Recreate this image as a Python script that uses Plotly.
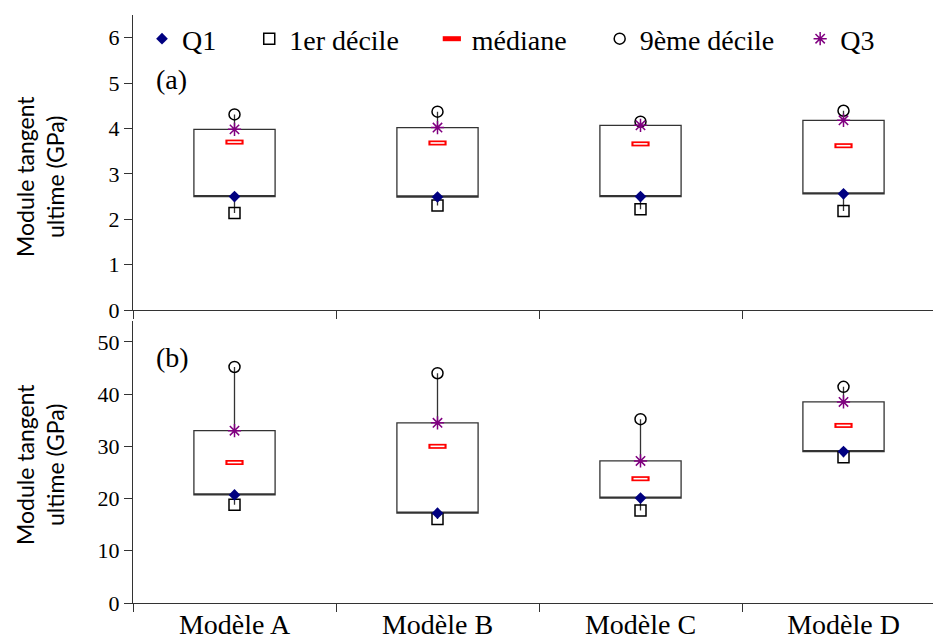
import plotly.graph_objects as go
from plotly.subplots import make_subplots

categories = ["Modèle A", "Modèle B", "Modèle C", "Modèle D"]

# Panel (a) values (GPa)
a_q1 = [2.50, 2.49, 2.50, 2.56]
a_d1 = [2.14, 2.30, 2.22, 2.18]
a_med = [3.70, 3.68, 3.66, 3.62]
a_d9 = [4.31, 4.37, 4.15, 4.39]
a_q3 = [3.98, 4.02, 4.07, 4.18]

# Panel (b) values (GPa)
b_q1 = [20.7, 17.2, 20.1, 29.0]
b_d1 = [18.8, 16.1, 17.7, 27.9]
b_med = [26.9, 30.0, 23.8, 34.0]
b_d9 = [45.2, 44.0, 35.2, 41.4]
b_q3 = [33.0, 34.5, 27.2, 38.5]

ticks_a = [0, 1, 2, 3, 4, 5, 6]
ticks_b = [0, 10, 20, 30, 40, 50]

names = ["Q1", "1er décile", "médiane", "9ème décile", "Q3"]
pads = [4, 4, 4, 3, 0]
NB = "\u00a0"

SERIF = "Liberation Serif"
SANS = "Lato"
AX = "#333333"

fig = make_subplots(rows=2, cols=1, shared_xaxes=True)


def add_panel(row, q1, d1, med, d9, q3, legend):
    fig.add_trace(go.Box(
        x=categories, q1=q1, median=q1, q3=q3, lowerfence=d1, upperfence=d9,
        width=0.4, whiskerwidth=0, boxpoints=False, fillcolor="white",
        line=dict(color=AX, width=1.3), showlegend=False, hoverinfo="skip"),
        row=row, col=1)
    fig.add_trace(go.Scatter(
        x=categories, y=d1, mode="markers", name=names[1] + NB * pads[1],
        legendrank=2, showlegend=legend,
        marker=dict(symbol="square-open", size=11, color="black",
                    line=dict(width=1.5, color="black"))), row=row, col=1)
    fig.add_trace(go.Scatter(
        x=categories, y=d9, mode="markers", name=names[3] + NB * pads[3],
        legendrank=4, showlegend=legend,
        marker=dict(symbol="circle-open", size=11, color="black",
                    line=dict(width=1.5, color="black"))), row=row, col=1)
    fig.add_trace(go.Scatter(
        x=categories, y=q1, mode="markers", name=names[0] + NB * pads[0],
        legendrank=1, showlegend=legend,
        marker=dict(symbol="diamond", size=9, color="#000080",
                    line=dict(width=0))), row=row, col=1)
    fig.add_trace(go.Scatter(
        x=categories, y=med, mode="markers", name=names[2] + NB * pads[2],
        legendrank=3, showlegend=legend,
        marker=dict(symbol="line-ew", size=13, color="red",
                    line=dict(width=5, color="red"))), row=row, col=1)
    fig.add_trace(go.Scatter(
        x=categories, y=med, mode="markers", showlegend=False, hoverinfo="skip",
        marker=dict(symbol="line-ew", size=10, color="white",
                    line=dict(width=1.6, color="white"))), row=row, col=1)
    fig.add_trace(go.Scatter(
        x=categories, y=q3, mode="markers", name=names[4] + NB * pads[4],
        legendrank=5, showlegend=legend,
        marker=dict(symbol="asterisk-open", size=11, color="#800080",
                    line=dict(width=1.5, color="#800080"))), row=row, col=1)


add_panel(1, a_q1, a_d1, a_med, a_d9, a_q3, True)
add_panel(2, b_q1, b_d1, b_med, b_d9, b_q3, False)

H_TOP, H_BOT = 15, 603
PH = H_BOT - H_TOP
y_a_bot = (H_BOT - 310) / PH
y_b_top = (H_BOT - 321) / PH

xcommon = dict(type="category", categoryorder="array", categoryarray=categories,
               range=[-0.5, -0.5 + 800 / 203], tickson="boundaries",
               ticks="outside", ticklen=8, tickcolor=AX, tickwidth=1.3,
               showline=True, linecolor=AX, linewidth=1.4, showgrid=False,
               zeroline=False, automargin=False, ticklabelstandoff=-4,
               tickfont=dict(family=SERIF, size=28, color="black"))
fig.update_xaxes(**xcommon)
fig.update_xaxes(showticklabels=False, row=1, col=1)

ycommon = dict(ticks="outside", ticklen=8, tickcolor=AX, tickwidth=1.3,
               showline=True, linecolor=AX, linewidth=1.4, showgrid=False,
               zeroline=False, automargin=False,
               tickfont=dict(family=SERIF, size=22, color="black"))
fig.update_yaxes(**ycommon)
fig.update_yaxes(range=[0, 6.5], tickvals=ticks_a, domain=[y_a_bot, 1.0], row=1, col=1)
fig.update_yaxes(range=[0, 54], tickvals=ticks_b, domain=[0, y_b_top], row=2, col=1)

annotations = [
    dict(text="Module tangent<br>ultime (GPa)", textangle=-90, xref="paper", yref="paper",
         x=(40 - 133) / 800, y=(H_BOT - 177) / PH, xanchor="center", yanchor="middle",
         showarrow=False, font=dict(family=SANS, size=23, color="black")),
    dict(text="Module tangent<br>ultime (GPa)", textangle=-90, xref="paper", yref="paper",
         x=(40 - 133) / 800, y=(H_BOT - 465) / PH, xanchor="center", yanchor="middle",
         showarrow=False, font=dict(family=SANS, size=23, color="black")),
    dict(text="(a)", xref="paper", yref="paper", x=(154 - 133) / 800,
         y=(H_BOT - 80) / PH, xanchor="left", yanchor="middle", showarrow=False,
         font=dict(family=SERIF, size=28, color="black")),
    dict(text="(b)", xref="paper", yref="paper", x=(154 - 133) / 800,
         y=(H_BOT - 358) / PH, xanchor="left", yanchor="middle", showarrow=False,
         font=dict(family=SERIF, size=28, color="black")),
]

fig.update_layout(
    width=933, height=640,
    margin=dict(l=133, r=0, t=H_TOP, b=640 - H_BOT, autoexpand=False),
    paper_bgcolor="white", plot_bgcolor="white",
    showlegend=True,
    legend=dict(orientation="h", x=(142 - 133) / 800, y=(H_BOT - 39) / PH,
                xanchor="left", yanchor="middle", bgcolor="rgba(0,0,0,0)",
                font=dict(family=SERIF, size=28, color="black"),
                itemsizing="trace", traceorder="normal"),
    annotations=annotations,
)

fig.write_html(
    "out.html",
    config={"displayModeBar": False},
    post_script="document.body.style.margin='0';document.body.style.overflow='hidden';",
)
